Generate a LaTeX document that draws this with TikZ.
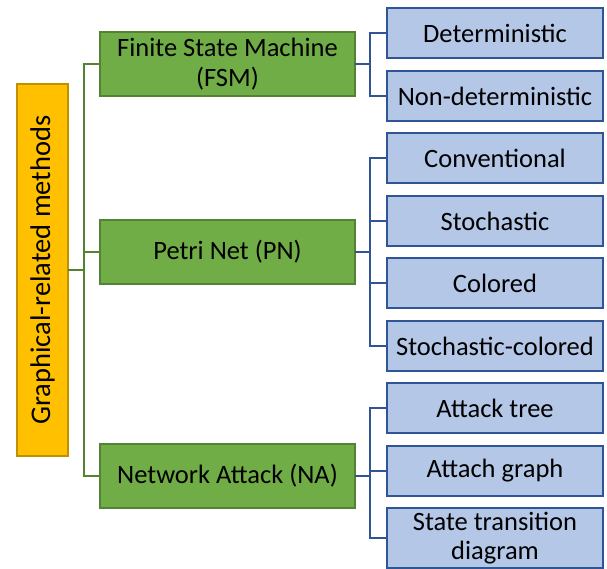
\documentclass[tikz,border=0pt]{standalone}
\usepackage{fontspec}
\setmainfont{Carlito}
\begin{document}
\begin{tikzpicture}[x=1pt,y=-1pt,
  base/.style={draw,line width=2pt,inner sep=0pt,outer sep=0pt,align=center,
    font=\fontsize{26.5}{29.5}\selectfont},
  rootbox/.style={base,fill=rootfill,draw=rootline,minimum width=51pt,minimum height=372pt,
    font=\fontsize{28.5}{32}\selectfont},
  catbox/.style={base,fill=catfill,draw=catline,minimum width=255pt,minimum height=64pt},
  leafbox/.style={base,fill=leaffill,draw=leafline,minimum width=216pt,minimum height=50pt},
  catlink/.style={draw=catline,line width=2.2pt},
  leaflink/.style={draw=leafline,line width=2.4pt}
]
\definecolor{rootfill}{HTML}{FFC000}
\definecolor{rootline}{HTML}{BF9000}
\definecolor{catfill}{HTML}{70AD47}
\definecolor{catline}{HTML}{548235}
\definecolor{leaffill}{HTML}{B4C7E7}
\definecolor{leafline}{HTML}{2F5597}
\useasboundingbox (0,0) rectangle (607,568);

% root
\node[rootbox] (root) at (42.5,270) {\rotatebox{90}{Graphical-related methods}};

% categories
\node[catbox] (fsm) at (227.5,64) {Finite State Machine\\(FSM)};
\node[catbox] (pn)  at (227.5,252) {Petri Net (PN)};
\node[catbox] (na)  at (227.5,476) {Network Attack (NA)};

% leaves
\node[leafbox] (det)    at (495,33)  {Deterministic};
\node[leafbox] (nondet) at (495,96)  {Non-deterministic};
\node[leafbox] (conv)   at (495,158) {Conventional};
\node[leafbox] (stoch)  at (495,221) {Stochastic};
\node[leafbox] (col)    at (495,283) {Colored};
\node[leafbox] (stcol)  at (495,346) {Stochastic-colored};
\node[leafbox] (atree)  at (495,408) {Attack tree};
\node[leafbox] (agraph) at (495,471) {Attach graph};
\node[leafbox,minimum height=60pt] (stdiag) at (495,538) {State transition\\diagram};

% root to categories
\coordinate (rj) at ([xshift=16pt]root.east);
\draw[catlink] (root.east) -- (rj);
\draw[catlink] (rj) |- (fsm.west);
\draw[catlink] (rj) |- (pn.west);
\draw[catlink] (rj) |- (na.west);

% categories to leaves
\foreach \c/\l in {fsm/det,fsm/nondet,pn/conv,pn/stoch,pn/col,pn/stcol,na/atree,na/agraph,na/stdiag}{
  \draw[leaflink] (\c.east) -- ++(15,0) |- (\l.west);
}
\end{tikzpicture}
\end{document}
